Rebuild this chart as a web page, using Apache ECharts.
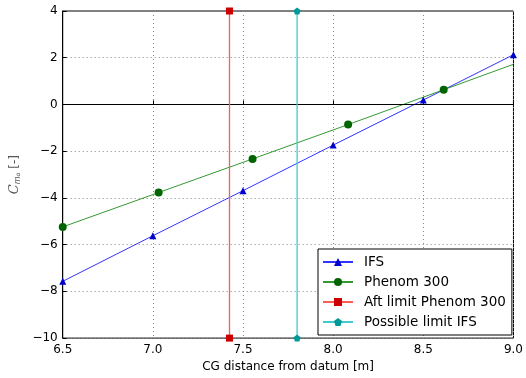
<!DOCTYPE html>
<html><head><meta charset="utf-8">
<script src="https://cdn.jsdelivr.net/npm/echarts@6/dist/echarts.min.js"></script>
<style>html,body{margin:0;padding:0;background:#fff}#c{width:526px;height:378px}</style>
</head><body><div id="c"></div>
<script>
const ifsX = [6.5, 7.0, 7.5, 8.0, 8.5, 9.0];
const ifsY = [-7.57, -5.62, -3.69, -1.74, 0.19, 2.13];
const phenomX = [6.5, 7.032, 7.553, 8.083, 8.613, 9.0];
const phenomY = [-5.24, -3.77, -2.33, -0.86, 0.63, 1.72];
const phenomMarked = [true, true, true, true, true, false];
const aftLimitX = [7.425, 7.425];
const aftLimitY = [4, -10];
const possLimitX = [7.80, 7.80];
const possLimitY = [4, -10];
const xTicks = [6.5, 7.0, 7.5, 8.0, 8.5, 9.0];
const yTicks = [-10, -8, -6, -4, -2, 0, 2, 4];

const pentagon = 'path://M0,-1 L0.951,-0.309 L0.588,0.809 L-0.588,0.809 L-0.951,-0.309 Z';
const font = 'DejaVu Sans';
const chart = echarts.init(document.getElementById('c'), null, {renderer:'canvas'});
const fmtY = v => v < 0 ? '\u2212' + Math.abs(v) : String(v);
chart.setOption({
  animation: false,
  textStyle: {fontFamily: font},
  grid: {left: 58, right: 9, top: 11, bottom: 38, show: true, borderColor: '#000', borderWidth: 1, backgroundColor: 'transparent'},
  xAxis: {
    type: 'value', min: xTicks[0], max: xTicks[xTicks.length-1], interval: 0.5,
    name: 'CG distance from datum [m]', nameLocation: 'middle', nameGap: 22,
    nameTextStyle: {fontSize: 12, color: '#000', fontFamily: font},
    axisLine: {show: true, lineStyle: {color: '#000'}},
    axisTick: {show: true, inside: true, length: 4, lineStyle: {color: '#000'}},
    axisLabel: {fontSize: 12, color: '#000', margin: 6, formatter: v => v.toFixed(1), fontFamily: font},
    splitLine: {show: true, lineStyle: {color: '#888', type: [1, 3], width: 1}}
  },
  yAxis: {
    type: 'value', min: yTicks[0], max: yTicks[yTicks.length-1], interval: 2,
    name: '{c|C}{s|m}{a|α} [-]', nameLocation: 'middle', nameGap: 35, nameRotate: 90,
    nameTextStyle: {fontSize: 12, color: '#555', fontFamily: font,
      rich: {c: {fontStyle: 'italic', fontSize: 13, color: '#555', fontFamily: 'DejaVu Serif'},
             s: {fontSize: 8, color: '#555', fontStyle: 'italic', verticalAlign: 'bottom', padding: [6,0,0,0]},
             a: {fontSize: 6, color: '#555', fontStyle: 'italic', verticalAlign: 'bottom', padding: [8,0,0,0]}}},
    axisLine: {show: true, lineStyle: {color: '#000'}},
    axisTick: {show: true, inside: true, length: 4, lineStyle: {color: '#000'}},
    axisLabel: {fontSize: 12, color: '#000', margin: 5, formatter: fmtY, fontFamily: font},
    splitLine: {show: true, lineStyle: {color: '#888', type: [1, 3], width: 1}}
  },
  legend: {
    orient: 'vertical', left: 318, top: 249,
    backgroundColor: '#fff', borderColor: '#000', borderWidth: 1, borderRadius: 0,
    padding: [6, 6, 6, 4], itemGap: 6, itemWidth: 30, itemHeight: 10,
    textStyle: {fontSize: 13.5, color: '#000', fontFamily: font, padding: [0,0,0,6]},
    data: ['IFS', 'Phenom 300', 'Aft limit Phenom 300', 'Possible limit IFS']
  },
  series: [
    {name: 'IFS', type: 'line', data: ifsX.map((x,i)=>[x, ifsY[i]]),
     symbol: 'triangle', symbolSize: 7, color: '#0000ff',
     lineStyle: {color: 'rgba(0,0,255,0.8)', width: 1}, itemStyle: {color: '#0000cc'},
     markLine: {silent: true, symbol: 'none', label: {show: false},
       lineStyle: {color: '#000', type: 'solid', width: 1}, data: [{yAxis: 0}]}},
    {name: 'Phenom 300', type: 'line',
     data: phenomX.map((x,i)=>({value: [x, phenomY[i]], symbol: phenomMarked[i] ? 'circle' : 'none'})),
     symbol: 'circle', symbolSize: 8, color: '#008000',
     lineStyle: {color: 'rgba(0,128,0,0.8)', width: 1}, itemStyle: {color: '#006400'}},
    {name: 'Aft limit Phenom 300', type: 'line', data: aftLimitX.map((x,i)=>[x, aftLimitY[i]]),
     symbol: 'rect', symbolSize: 7, color: '#ff0000', z: 5,
     lineStyle: {color: '#ff5a5a', width: 1.3}, itemStyle: {color: '#cc0000'}},
    {name: 'Possible limit IFS', type: 'line', data: possLimitX.map((x,i)=>[x, possLimitY[i]]),
     symbol: pentagon, symbolSize: 7, color: '#00bfbf', z: 5,
     lineStyle: {color: '#40cccc', width: 1.3}, itemStyle: {color: '#009999'}}
  ]
});
</script></body></html>
